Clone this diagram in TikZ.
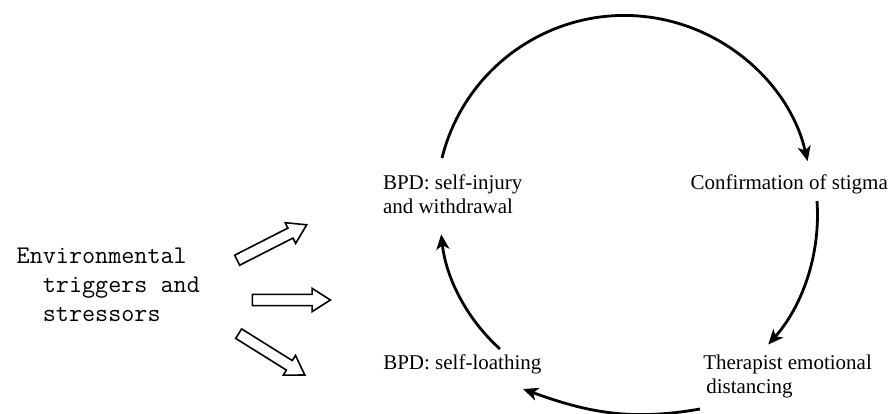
\documentclass[tikz,border=0pt]{standalone}
\usepackage{fontspec}
\setmainfont{Liberation Serif}
\usetikzlibrary{arrows.meta,shapes.arrows}
\begin{document}
\begin{tikzpicture}[x=1pt,y=1pt,
  lbl/.style={inner sep=0pt, outer sep=0pt, align=left, font=\fontsize{21}{23.7}\selectfont},
  envtext/.style={inner sep=0pt, outer sep=0pt, align=left, font=\fontsize{25.4}{28.7}\selectfont\ttfamily},
  cyc/.style={line width=2.8pt, -{Stealth[length=15pt,width=13pt,inset=4pt]}},
  blockarrow/.style={single arrow, draw, line width=1.6pt, minimum height=78pt,
    inner xsep=0pt, inner ysep=4.8pt,
    single arrow head extend=6pt, single arrow tip angle=65}]
\useasboundingbox (0,0) rectangle (891,414);
% text nodes (base anchor = baseline of the last line)
\node[envtext, anchor=base west] (env) at (16.7,92.6) {Environmental\\\phantom{xx}triggers and\\\phantom{xx}stressors};
\node[lbl, anchor=base west] (inj) at (383,200.7) {BPD: self-injury\\and withdrawal};
\node[lbl, anchor=base west] (stig) at (690.7,224) {Confirmation of stigma};
\node[lbl, anchor=base west] (loath) at (383.3,44.7) {BPD: self-loathing};
\node[lbl, anchor=base west] (ther) at (703.3,20.7) {Therapist emotional\\\hspace*{3pt}distancing};
% block arrows
\node[blockarrow, rotate=27] (ba1) at (268,169.5) {};
\node[blockarrow] (ba2) at (287,114) {};
\node[blockarrow, rotate=-32] (ba3) at (268,62) {};
% cycle arrows
\coordinate (topS) at (442,256);
\coordinate (rS) at (817,213);
\coordinate (lS) at (500,65);
\coordinate (bS) at (700,5);
\coordinate (bE) at (523,25);
\draw[cyc] (topS) arc[start angle=166, end angle=13, radius=188];
\draw[cyc] (rS) arc[start angle=4, end angle=-41.5, radius=196];
\draw[cyc] (bS) to[out=190, in=-20] (bE);
\draw[cyc] (lS) arc[start angle=228, end angle=186.3, radius=181];
\end{tikzpicture}
\end{document}
